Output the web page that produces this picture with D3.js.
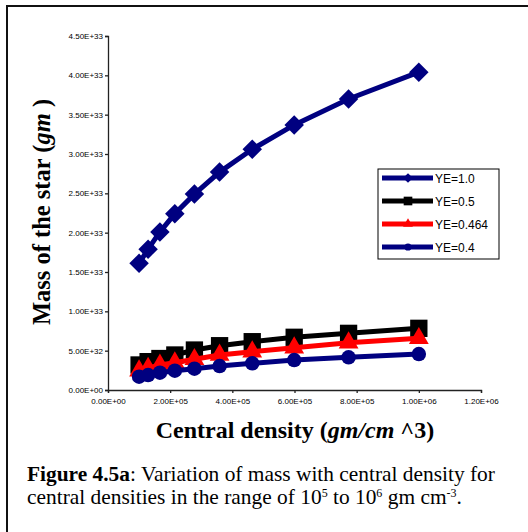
<!DOCTYPE html>
<html>
<head>
<meta charset="utf-8">
<script src="https://cdn.jsdelivr.net/npm/d3@7/dist/d3.min.js"></script>
<style>
  body { margin: 0; background: #fff; }
  svg { display: block; }
</style>
</head>
<body>
<div id="chart"></div>
<script>
// central density (gm/cm^3)
var densities = [1.00e5, 1.29e5, 1.67e5, 2.15e5, 2.78e5, 3.59e5, 4.64e5, 5.99e5, 7.74e5, 1.00e6];
var seriesNames = ['YE=1.0', 'YE=0.5', 'YE=0.464', 'YE=0.4'];
// mass of the star (gm)
var massYe10 = [1.61e33, 1.79e33, 2.01e33, 2.24e33, 2.49e33, 2.77e33, 3.06e33, 3.37e33, 3.70e33, 4.04e33];
var massYe05 = [3.18e32, 3.60e32, 4.00e32, 4.45e32, 5.08e32, 5.63e32, 6.14e32, 6.70e32, 7.20e32, 7.84e32];
var massYe0464 = [2.45e32, 2.76e32, 3.18e32, 3.47e32, 3.90e32, 4.45e32, 4.87e32, 5.37e32, 6.00e32, 6.57e32];
var massYe04 = [1.69e32, 1.90e32, 2.20e32, 2.45e32, 2.71e32, 3.05e32, 3.39e32, 3.81e32, 4.15e32, 4.57e32];
var xTicks = [0, 2e5, 4e5, 6e5, 8e5, 1e6, 1.2e6];
var yTicks = [0, 5e32, 1e33, 1.5e33, 2e33, 2.5e33, 3e33, 3.5e33, 4e33, 4.5e33];

var series = [
    { name: seriesNames[0], values: massYe10, color: '#000080', marker: 'diamond' },
    { name: seriesNames[1], values: massYe05, color: '#000000', marker: 'square' },
    { name: seriesNames[2], values: massYe0464, color: '#ff0000', marker: 'triangle' },
    { name: seriesNames[3], values: massYe04, color: '#000080', marker: 'circle' }
];

var width = 528, height = 532;

var svg = d3.select('#chart')
    .append('svg')
    .attr('width', width)
    .attr('height', height);

/* frame of the figure */
svg.append('path')
    .attr('d', 'M7,532 V6 H528')
    .attr('fill', 'none')
    .attr('stroke', '#111')
    .attr('stroke-width', 2);

var x = d3.scaleLinear().domain([0, 1.2e6]).range([108, 481]);
var y = d3.scaleLinear().domain([0, 4.5e33]).range([390, 36]);

function sci(v) {
    if (v === 0) { return '0.00E+00'; }
    var e = Math.floor(Math.log10(v) + 1e-9);
    var m = v / Math.pow(10, e);
    return m.toFixed(2) + 'E+' + (e < 10 ? '0' + e : e);
}

var xAxis = svg.append('g')
    .attr('transform', 'translate(0,390)')
    .call(d3.axisBottom(x).tickValues(xTicks).tickFormat(sci).tickSizeOuter(0).tickSize(3));

var yAxis = svg.append('g')
    .attr('transform', 'translate(108,0)')
    .call(d3.axisLeft(y).tickValues(yTicks).tickFormat(sci).tickSizeOuter(0).tickSize(3));

[xAxis, yAxis].forEach(function (ax) {
    ax.selectAll('path, line').attr('stroke', '#222').attr('stroke-width', 1.3);
    ax.selectAll('text')
        .attr('fill', '#000')
        .style('font-family', 'Liberation Sans, Arial, sans-serif')
        .style('font-size', '8px');
});
xAxis.selectAll('text').attr('y', 8).attr('dy', '0.71em');
yAxis.selectAll('text').attr('x', -5);

var symbolTypes = {
    diamond: { type: d3.symbolSquare, size: 190, rotate: 45 },
    square: { type: d3.symbolSquare, size: 300, rotate: 0 },
    triangle: { type: d3.symbolTriangle, size: 170, rotate: 0 },
    circle: { type: d3.symbolCircle, size: 165, rotate: 0 }
};

var line = d3.line()
    .x(function (d) { return x(d[0]); })
    .y(function (d) { return y(d[1]); });

series.forEach(function (s) {
    var pts = densities.map(function (dv, i) { return [dv, s.values[i]]; });
    var g = svg.append('g').attr('class', 'series');
    g.append('path')
        .datum(pts)
        .attr('d', line)
        .attr('fill', 'none')
        .attr('stroke', s.color)
        .attr('stroke-width', 5);
    var sym = symbolTypes[s.marker];
    g.selectAll('path.marker')
        .data(pts)
        .enter()
        .append('path')
        .attr('class', 'marker')
        .attr('d', d3.symbol().type(sym.type).size(sym.size))
        .attr('transform', function (d) {
            return 'translate(' + x(d[0]) + ',' + y(d[1]) + ') rotate(' + sym.rotate + ')';
        })
        .attr('fill', s.color);
});

/* legend */
var legend = svg.append('g').attr('transform', 'translate(378,169)');
legend.append('rect')
    .attr('width', 121)
    .attr('height', 90)
    .attr('fill', '#fff')
    .attr('stroke', '#000')
    .attr('stroke-width', 1);

series.forEach(function (s, i) {
    var row = legend.append('g').attr('transform', 'translate(0,' + (9 + i * 23) + ')');
    row.append('line')
        .attr('x1', 4).attr('x2', 55)
        .attr('stroke', s.color)
        .attr('stroke-width', 5);
    var sym = symbolTypes[s.marker];
    row.append('path')
        .attr('d', d3.symbol().type(sym.type).size(sym.size * 0.25))
        .attr('transform', 'translate(30,0) rotate(' + sym.rotate + ')')
        .attr('fill', s.color);
    row.append('text')
        .attr('x', 57)
        .attr('dy', '0.38em')
        .style('font-family', 'Liberation Sans, Arial, sans-serif')
        .style('font-size', '12px')
        .text(s.name);
});

/* axis titles */
var yTitle = svg.append('text')
    .attr('transform', 'translate(50,212) rotate(-90)')
    .attr('text-anchor', 'middle')
    .style('font-family', 'Liberation Serif, Times New Roman, serif')
    .style('font-weight', 'bold')
    .style('font-size', '24.5px');
yTitle.append('tspan').text('Mass of the star (');
yTitle.append('tspan').style('font-style', 'italic').text('gm');
yTitle.append('tspan').text(' )');

var xTitle = svg.append('text')
    .attr('x', 295)
    .attr('y', 438)
    .attr('text-anchor', 'middle')
    .style('font-family', 'Liberation Serif, Times New Roman, serif')
    .style('font-weight', 'bold')
    .style('font-size', '24px');
xTitle.append('tspan').text('Central density (');
xTitle.append('tspan').style('font-style', 'italic').text('gm/cm');
xTitle.append('tspan').text(' ^3)');

/* caption */
var cap = svg.append('g')
    .style('font-family', 'Liberation Serif, Times New Roman, serif')
    .style('font-size', '21.4px');
var c1 = cap.append('text').attr('x', 27).attr('y', 481);
c1.append('tspan').style('font-weight', 'bold').text('Figure 4.5a');
c1.append('tspan').text(': Variation of mass with central density for');
var c2 = cap.append('text').attr('x', 27).attr('y', 504);
c2.append('tspan').text('central densities in the range of 10');
c2.append('tspan').attr('dy', -7).style('font-size', '12px').text('5');
c2.append('tspan').attr('dy', 7).text(' to 10');
c2.append('tspan').attr('dy', -7).style('font-size', '12px').text('6');
c2.append('tspan').attr('dy', 7).text(' gm cm');
c2.append('tspan').attr('dy', -7).style('font-size', '12px').text('-3');
c2.append('tspan').attr('dy', 7).text('.');
</script>
</body>
</html>
